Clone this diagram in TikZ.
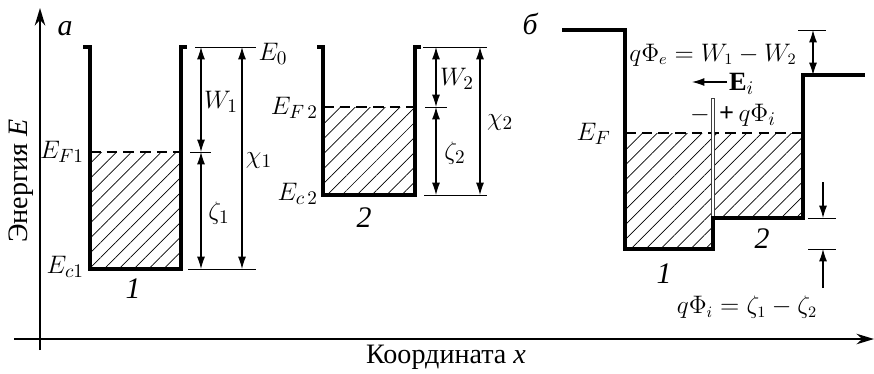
\documentclass[tikz,border=0pt]{standalone}
\usepackage{fontspec}
\setmainfont{Liberation Serif}
\usetikzlibrary{positioning, arrows.meta, patterns.meta}
\tikzset{
	axisline/.style={
			line width=0.9pt,
			-{Stealth[length=10pt,width=6pt]}
		},
	wallline/.style={
			line width=1.8pt,
			line join=miter
		},
	fermiline/.style={
			line width=1.4pt,
			dash pattern=on 6pt off 3.5pt
		},
	hatchfill/.style={
			pattern={Lines[angle=45,distance=6pt,line width=0.4pt]}
		},
	refline/.style={
			line width=0.5pt
		},
	dimarrow/.style={
			line width=0.6pt,
			{Latex[length=7pt,width=4.5pt]}-{Latex[length=7pt,width=4.5pt]}
		},
	pointarrow/.style={
			line width=0.6pt,
			-{Latex[length=7pt,width=4.5pt]}
		},
	levelnode/.style={
			font=\fontsize{15}{17}\selectfont,
			inner sep=1pt
		},
	eqnode/.style={
			font=\fontsize{13.5}{16}\selectfont,
			inner sep=1pt
		},
	wellnode/.style={
			font=\fontsize{17}{19}\selectfont\itshape,
			inner sep=1pt
		},
	axisnode/.style={
			font=\fontsize{16}{18}\selectfont,
			inner sep=1pt
		}
}

\begin{document}
\begin{tikzpicture}[x=0.02cm, y=-0.02cm]
\useasboundingbox (0,0) rectangle (874,373);

% axes
\coordinate (yBot) at (40,350);
\coordinate (yTop) at (40,8);
\coordinate (xLeft) at (14,339);
\coordinate (xRight) at (874,339);
\draw[axisline] (yBot) -- (yTop);
\draw[axisline] (xLeft) -- (xRight);
\node[axisnode, rotate=90] (yLabel) at (21,181) {Энергия \textit{E}};
\node[axisnode] (xLabel) at (446,357) {Координата \textit{x}};

% metal 1 (a)
\node[wellnode] (labA) at (65,29) {а};
\fill[hatchfill] (90,152) rectangle (181,269);
\draw[fermiline] (90,152) -- (181,152);
\draw[wallline] (83,47) -- (90,47) -- (90,269) -- (181,269) -- (181,47) -- (187,47);
\node[levelnode, anchor=east] (EFa) at (86,152) {$E_{F1}$};
\node[levelnode, anchor=east] (Eca) at (86,267) {$E_{c1}$};
\node[wellnode] (numA) at (133,289) {1};

\coordinate (aTop) at (195,47);
\coordinate (aTopEnd) at (256,47);
\coordinate (aMid) at (190,152);
\coordinate (aMidEnd) at (211,152);
\coordinate (aBot) at (188,269);
\coordinate (aBotEnd) at (256,269);
\draw[refline] (aTop) -- (aTopEnd);
\draw[refline] (aMid) -- (aMidEnd);
\draw[refline] (aBot) -- (aBotEnd);
\coordinate (W1top) at (201,47);
\coordinate (W1bot) at (201,152);
\coordinate (z1bot) at (201,269);
\coordinate (x1top) at (242,47);
\coordinate (x1bot) at (242,269);
\draw[dimarrow] (W1top) -- (W1bot);
\draw[dimarrow] (W1bot) -- (z1bot);
\draw[dimarrow] (x1top) -- (x1bot);
\node[levelnode] (E0) at (273,54) {$E_0$};
\node[levelnode] (W1) at (221,102) {$W_1$};
\node[levelnode] (zeta1) at (219,213) {$\zeta_1$};
\node[levelnode] (chi1) at (259,161) {$\chi_1$};

% metal 2
\fill[hatchfill] (323,107) rectangle (415,195);
\draw[fermiline] (323,107) -- (415,107);
\draw[wallline] (317,47) -- (323,47) -- (323,195) -- (415,195) -- (415,47) -- (421,47);
\node[levelnode, anchor=east] (EFb) at (320,108) {$E_{F\,2}$};
\node[levelnode, anchor=east] (Ecb) at (320,194) {$E_{c\,2}$};
\node[wellnode] (numB) at (364,218) {2};

\coordinate (bTop) at (423,47);
\coordinate (bTopEnd) at (487,47);
\coordinate (bMid) at (425,107);
\coordinate (bMidEnd) at (447,107);
\coordinate (bBot) at (424,195);
\coordinate (bBotEnd) at (487,195);
\draw[refline] (bTop) -- (bTopEnd);
\draw[refline] (bMid) -- (bMidEnd);
\draw[refline] (bBot) -- (bBotEnd);
\coordinate (W2top) at (436,47);
\coordinate (W2bot) at (436,107);
\coordinate (z2bot) at (436,195);
\coordinate (x2top) at (480,47);
\coordinate (x2bot) at (480,195);
\draw[dimarrow] (W2top) -- (W2bot);
\draw[dimarrow] (W2bot) -- (z2bot);
\draw[dimarrow] (x2top) -- (x2bot);
\node[levelnode] (W2) at (457,79) {$W_2$};
\node[levelnode] (zeta2) at (455,153) {$\zeta_2$};
\node[levelnode] (chi2) at (500,123) {$\chi_2$};

% contact (b)
\node[wellnode] (labB) at (530,24) {б};
\fill[hatchfill] (625,133) rectangle (713,249);
\fill[hatchfill] (713,133) rectangle (803,218);
\draw[fermiline] (625,133) -- (803,133);
\filldraw[fill=white, draw=black!75, line width=0.4pt] (711.5,98) rectangle (714.5,218);
\draw[wallline] (562,30) -- (625,30) -- (625,249) -- (713,249) -- (713,218)
  -- (803,218) -- (803,75) -- (865,75);
\node[levelnode, anchor=east] (EF) at (613,134) {$E_F$};
\node[wellnode] (numC) at (664,274) {1};
\node[wellnode] (numD) at (762,239) {2};

\node[eqnode] (PhiE) at (713,55) {$q\Phi_e = W_1 - W_2$};
\coordinate (eTop) at (798,30);
\coordinate (eTopEnd) at (826,30);
\coordinate (eArrTop) at (813,30);
\coordinate (eArrBot) at (813,75);
\draw[refline] (eTop) -- (eTopEnd);
\draw[dimarrow] (eArrTop) -- (eArrBot);

\node[levelnode, anchor=west] (Ei) at (727,84) {$\mathbf{E}_i$};
\coordinate (EiEnd) at (692,82);
\draw[pointarrow] (Ei.west |- EiEnd) -- (EiEnd);
\node[levelnode] (minus) at (700,115) {$-$};
\node[levelnode, anchor=west] (PhiI) at (717,115) {\textbf{+}\,$q\Phi_i$};

\coordinate (iTop) at (808,218);
\coordinate (iTopEnd) at (836,218);
\coordinate (iBot) at (808,249);
\coordinate (iBotEnd) at (836,249);
\draw[refline] (iTop) -- (iTopEnd);
\draw[refline] (iBot) -- (iBotEnd);
\coordinate (iArrTop) at (823,182);
\coordinate (iArrTopEnd) at (823,218);
\coordinate (iArrBot) at (823,288);
\coordinate (iArrBotEnd) at (823,249);
\draw[pointarrow] (iArrTop) -- (iArrTopEnd);
\draw[pointarrow] (iArrBot) -- (iArrBotEnd);
\node[eqnode] (PhiIeq) at (747,307) {$q\Phi_i = \zeta_1 - \zeta_2$};

\end{tikzpicture}
\end{document}
